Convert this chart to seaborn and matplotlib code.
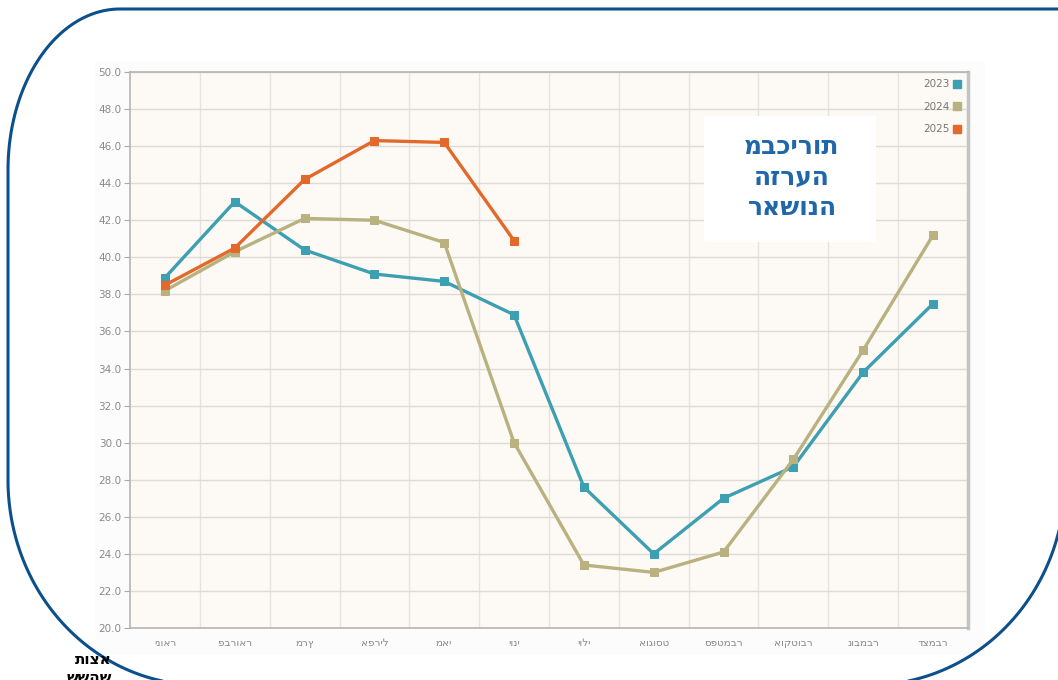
import matplotlib
matplotlib.use("Agg")
import matplotlib.pyplot as plt
import seaborn as sns
import numpy as np
import pandas as pd
from matplotlib.lines import Line2D
from matplotlib.patches import Rectangle

# data
months = ["ינואר", "פברואר", "מרץ", "אפריל", "מאי", "יוני",
          "יולי", "אוגוסט", "ספטמבר", "אוקטובר", "נובמבר", "דצמבר"]
years = ["2023", "2024", "2025"]
vals_2023 = [38.9, 43.0, 40.4, 39.1, 38.7, 36.9, 27.6, 24.0, 27.0, 28.7, 33.8, 37.5]
vals_2024 = [38.2, 40.3, 42.1, 42.0, 40.8, 30.0, 23.4, 23.0, 24.1, 29.1, 35.0, 41.2]
vals_2025 = [38.5, 40.5, 44.2, 46.3, 46.2, 40.9]
yticks = np.arange(20, 50.1, 2)
title_lines = ["מבכירות", "הזרעה", "ראשונה"]

colors = {"2023": "#3d9fb2", "2024": "#b9b17f", "2025": "#e2692b"}

rows = []
for y, vals in zip(years, [vals_2023, vals_2024, vals_2025]):
    for i, v in enumerate(vals):
        rows.append({"month": i, "value": v, "year": y})
df = pd.DataFrame(rows)

sns.set_theme(style="white")
plt.rcParams["font.family"] = ["DejaVu Sans"]

W, H = 1058, 680
fig = plt.figure(figsize=(W / 100, H / 100), dpi=100)
fig.patch.set_facecolor("white")

# light panel behind the chart
fig.add_artist(Rectangle((95 / W, 1 - 655 / H), 890 / W, 593 / H,
                         transform=fig.transFigure, facecolor="#fcfcfc",
                         edgecolor="none", zorder=0))

ax = fig.add_axes([130 / W, 1 - 628 / H, 838 / W, 556 / H])
ax.set_facecolor("#fdf9f4")

sns.lineplot(data=df, x="month", y="value", hue="year", palette=colors,
             marker="s", markersize=6, linewidth=2.4,
             ax=ax, legend=False)
for line in ax.lines:
    line.set_markeredgecolor(line.get_color())

ax.set_xlim(-0.5, len(months) - 0.5)
ax.set_ylim(yticks[0], yticks[-1])
ax.set_yticks(yticks)
ax.set_yticklabels([f"{t:.1f}" for t in yticks], fontsize=7.5, color="#8a8a8a")
ax.set_xticks(range(len(months)))
ax.set_xticklabels(months, fontsize=7.5, color="#8a8a8a")
ax.set_xticks(np.arange(0.5, len(months) - 0.5, 1), minor=True)
ax.tick_params(axis="x", which="both", length=0, pad=7)
ax.tick_params(axis="y", length=4, width=0.8, color="#aaaaaa", pad=2, left=True)
ax.grid(axis="y", color="#dedbd6", linewidth=1)
ax.grid(axis="x", which="minor", color="#e6e3de", linewidth=1)
ax.set_xlabel("")
ax.set_ylabel("")
for side, sp in ax.spines.items():
    sp.set_visible(True)
    sp.set_color("#b5b5b5")
    sp.set_linewidth(1.2)
ax.spines["right"].set_linewidth(2.5)
ax.spines["right"].set_color("#c4c4c4")

# legend in the top right corner, text before the marker
handles = [Line2D([], [], marker="s", linestyle="none", markersize=6,
                  color=colors[y]) for y in years]
leg = ax.legend(handles, years, loc="upper right", markerfirst=False,
                frameon=False, fontsize=7.5, handletextpad=0.3,
                labelspacing=1.2, borderaxespad=0.3, handlelength=0.8)
for t in leg.get_texts():
    t.set_color("#777777")

# title box
ax.add_patch(Rectangle((0.685, 0.695), 0.205, 0.225, transform=ax.transAxes,
                       facecolor="white", edgecolor="none", zorder=3))
ax.text(0.79, 0.81, "\n".join(title_lines),
        transform=ax.transAxes, ha="center", va="center", fontsize=18,
        fontweight="bold", color="#1f67a8", linespacing=1.35, zorder=4)

# blue rounded frame around the figure (partly off the page)
# bottom-left arc from the bottom up, then left side, top-left arc, top edge
t1 = np.linspace(np.pi, 1.5 * np.pi, 60)
t2 = np.linspace(0.5 * np.pi, np.pi, 60)
fx = np.concatenate([200 + 192 * np.cos(t2), [8],
                     120 + 112 * np.cos(t1), [1070]])
fy = np.concatenate([480 + 205 * np.sin(t2), [170],
                     170 + 161 * np.sin(t1), [9]])
fig.add_artist(Line2D(fx / W, 1 - fy / H, color="#0b4f8c", linewidth=2.2,
                      transform=fig.transFigure))
t3 = np.linspace(0, 0.5 * np.pi, 60)
fig.add_artist(Line2D((870 + 195 * np.cos(t3)) / W,
                      1 - (480 + 205 * np.sin(t3)) / H, color="#0b4f8c",
                      linewidth=2.2, transform=fig.transFigure))

# cut-off text from the neighbouring column
fig.text(112 / W, 1 - 659 / H, "תוצא", ha="right", va="center",
         fontsize=11, fontweight="bold", color="black")
fig.text(112 / W, 1 - 677 / H, "ששהש", ha="right", va="center",
         fontsize=11, fontweight="bold", color="black")

fig.savefig("out.png", dpi=100)
